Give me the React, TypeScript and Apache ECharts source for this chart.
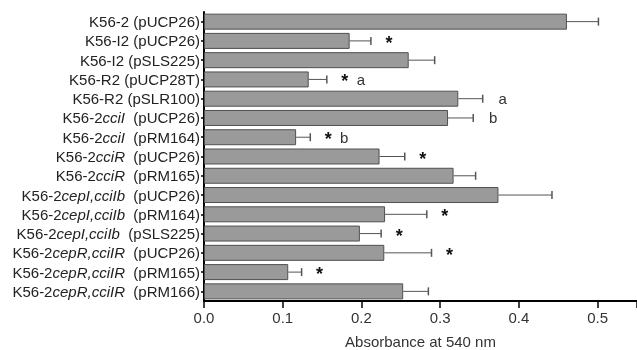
import React, { useEffect, useRef } from "react";
import * as echarts from "echarts";

const strains = ["K56-2", "K56-I2", "K56-I2", "K56-R2", "K56-R2", "K56-2", "K56-2", "K56-2", "K56-2", "K56-2", "K56-2", "K56-2", "K56-2", "K56-2", "K56-2"];
const mutations = ["", "", "", "", "", "cciI", "cciI", "cciR", "cciR", "cepI,cciIb", "cepI,cciIb", "cepI,cciIb", "cepR,cciIR", "cepR,cciIR", "cepR,cciIR"];
const plasmids = ["pUCP26", "pUCP26", "pSLS225", "pUCP28T", "pSLR100", "pUCP26", "pRM164", "pUCP26", "pRM165", "pUCP26", "pRM164", "pSLS225", "pUCP26", "pRM165", "pRM166"];
const means = [0.461, 0.185, 0.26, 0.133, 0.323, 0.31, 0.117, 0.223, 0.317, 0.374, 0.23, 0.198, 0.229, 0.107, 0.253];
const errorTops = [0.501, 0.212, 0.293, 0.156, 0.354, 0.342, 0.135, 0.255, 0.345, 0.442, 0.283, 0.225, 0.289, 0.124, 0.285];
const stars = [false, true, false, true, false, false, true, true, false, false, true, true, true, true, false];
const letters = ["", "", "", "a", "a", "b", "b", "", "", "", "", "", "", "", ""];
const xTicks = [0, 0.1, 0.2, 0.3, 0.4, 0.5];

const categories = strains.map(
  (s, i) => s + mutations[i] + (mutations[i] ? "  " : " ") + "(" + plasmids[i] + ")"
);

const FONT = "'Liberation Sans', Arial, Helvetica, sans-serif";

export default function App() {
  const ref = useRef<HTMLDivElement>(null);
  useEffect(() => {
    if (!ref.current) return;
    const chart = echarts.init(ref.current, undefined, { renderer: "svg" });
    chart.setOption({
      animation: false,
      textStyle: { fontFamily: FONT },
      grid: { left: 204, right: 0, top: 12, bottom: 49, containLabel: false, outerBoundsMode: "none" },
      xAxis: {
        type: "value",
        min: 0,
        max: 0.55,
        interval: 0.1,
        name: "Absorbance at 540 nm",
        nameLocation: "middle",
        nameGap: 33,
        nameTextStyle: { fontSize: 15, color: "#333", fontFamily: FONT },
        axisLine: { show: true, lineStyle: { color: "#000", width: 2 } },
        axisTick: { show: true, length: 7, lineStyle: { color: "#000", width: 1.5 } },
        splitLine: { show: false },
        axisLabel: {
          fontSize: 15,
          color: "#333",
          margin: 9,
          fontFamily: FONT,
          formatter: (v: number) => {
            const t = xTicks.find((x) => Math.abs(x - v) < 1e-6);
            return t === undefined ? "" : t.toFixed(1);
          },
        },
      },
      yAxis: {
        type: "category",
        data: categories,
        inverse: true,
        axisLine: { show: true, lineStyle: { color: "#000", width: 2 } },
        axisTick: { show: true, length: 3, alignWithLabel: true, interval: 0, lineStyle: { color: "#000", width: 1.5 } },
        axisLabel: {
          interval: 0,
          margin: 4,
          fontSize: 15,
          color: "#222",
          fontFamily: FONT,
          formatter: (value: string, idx: number) => {
            const i = categories.indexOf(value);
            const k = i >= 0 ? i : idx;
            if (!mutations[k]) return `{n|${categories[k]}}`;
            return `{n|${strains[k]}}{i|${mutations[k]}}{n|  (${plasmids[k]})}`;
          },
          rich: {
            n: { fontSize: 15, color: "#222", fontFamily: FONT },
            i: { fontSize: 15, color: "#222", fontStyle: "italic", fontFamily: FONT },
          },
        },
      },
      series: [
        {
          type: "bar",
          data: means,
          barCategoryGap: "17%",
          itemStyle: { color: "#9a9a9a", borderColor: "#505050", borderWidth: 1 },
        },
        {
          type: "custom",
          data: means.map((m, i) => [m, i, errorTops[i]]),
          encode: { x: [0, 2], y: 1 },
          z: 5,
          renderItem: (params: any, api: any) => {
            const i = params.dataIndex;
            const p0 = api.coord([api.value(0), i]);
            const p1 = api.coord([api.value(2), i]);
            const children: any[] = [
              {
                type: "line",
                shape: { x1: p0[0], y1: p0[1], x2: p1[0], y2: p1[1] },
                style: { stroke: "#555", lineWidth: 1 },
              },
              {
                type: "line",
                shape: { x1: p1[0], y1: p1[1] - 4, x2: p1[0], y2: p1[1] + 4 },
                style: { stroke: "#555", lineWidth: 1.5 },
              },
            ];
            if (stars[i]) {
              children.push({
                type: "text",
                x: p1[0] + 18,
                y: p1[1] + 2,
                style: {
                  text: "*",
                  fontSize: 18,
                  fontWeight: "bold",
                  fontFamily: FONT,
                  fill: "#111",
                  align: "center",
                  verticalAlign: "middle",
                },
              });
            }
            if (letters[i]) {
              children.push({
                type: "text",
                x: p1[0] + (stars[i] ? 34 : 20),
                y: p1[1],
                style: {
                  text: letters[i],
                  fontSize: 15,
                  fontFamily: FONT,
                  fill: "#333",
                  align: "center",
                  verticalAlign: "middle",
                },
              });
            }
            return { type: "group", children };
          },
        },
      ],
    });
    return () => chart.dispose();
  }, []);
  return <div ref={ref} style={{ position: "fixed", left: 0, top: 0, width: 637, height: 350 }} />;
}
